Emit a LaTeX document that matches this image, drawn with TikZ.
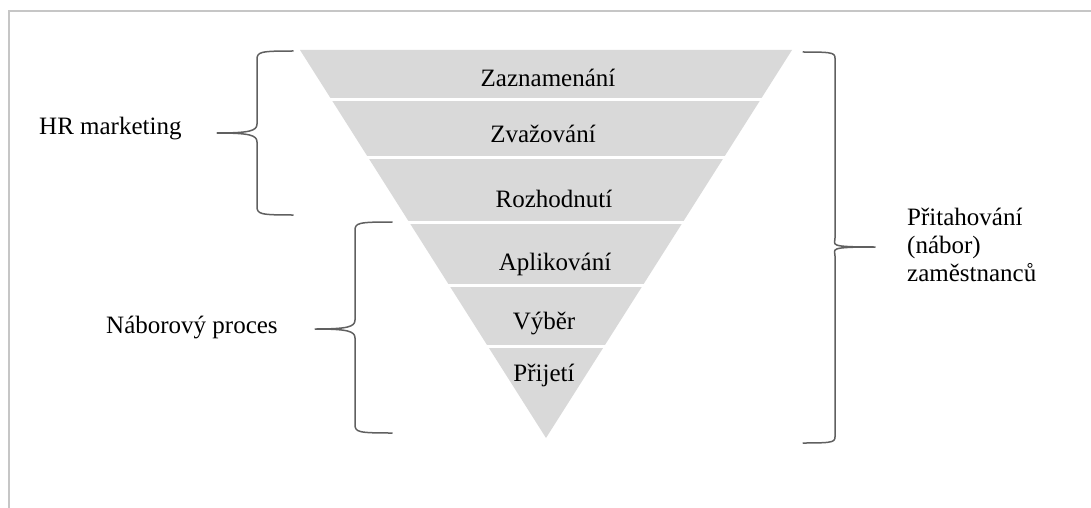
\documentclass[tikz,border=0pt]{standalone}
\usepackage{fontspec}
\setmainfont{Liberation Serif}
\definecolor{bordergray}{HTML}{C6C6C6}
\definecolor{bracegray}{HTML}{606060}
\definecolor{funnelgray}{HTML}{D9D9D9}
% left brace: #1 arm end x, #2 spine x, #3 tip x, #4 top y, #5 mid y, #6 bottom y, #7 name
\newcommand\LeftBr[7]{%
  \coordinate (#7-tip) at (#3,#5);
  \draw[brc] (#1,#4) .. controls (#2+2,#4) and (#2,#4+1) .. (#2,#4+9)
    -- (#2,#5-9) .. controls (#2,#5-2) and (#2-8,#5) .. (#7-tip)
    .. controls (#2-8,#5) and (#2,#5+2) .. (#2,#5+9)
    -- (#2,#6-9) .. controls (#2,#6-1) and (#2+2,#6) .. (#1,#6);}
\begin{document}
\begin{tikzpicture}[x=1pt,y=-1pt,
  lbl/.style={font=\fontsize{25}{28}\selectfont, inner sep=0pt, anchor=base},
  brc/.style={draw=bracegray, line width=1.5pt, line join=round, line cap=round},
  gap/.style={draw=white, line width=3pt}]
\useasboundingbox (0,0) rectangle (1091,508);
% frame
\draw[bordergray, line width=1.5pt] (9,508) -- (9,11) -- (1091,11);
% funnel
\coordinate (ftl) at (300,50);
\coordinate (ftr) at (792,50);
\coordinate (fap) at (546,438);
\fill[funnelgray] (ftl) -- (ftr) -- (fap) -- cycle;
\foreach \y in {99.5,157,222,285.5,346.5}
  \draw[gap] (290,\y) -- (800,\y);
% stage labels
\node[lbl] (s1) at (548,87) {Zaznamenání};
\node[lbl] (s2) at (543,142) {Zvažování};
\node[lbl] (s3) at (554,207) {Rozhodnutí};
\node[lbl] (s4) at (555,270) {Aplikování};
\node[lbl] (s5) at (544,329) {Výběr};
\node[lbl] (s6) at (544,381) {Přijetí};
% braces
\LeftBr{293}{257}{217}{51}{133}{215}{bA}
\LeftBr{392}{355}{315}{222}{329}{433}{bB}
\LeftBr{803}{835}{875}{52}{247}{443}{bC}
% side labels
\node[lbl, anchor=base west] (hr) at (39,135) {HR marketing};
\node[lbl, anchor=base west] (np) at (106,333) {Náborový proces};
\node[lbl, anchor=base west, align=left] (pz) at (907,281) {Přitahování\\(nábor)\\zaměstnanců};
\end{tikzpicture}
\end{document}
